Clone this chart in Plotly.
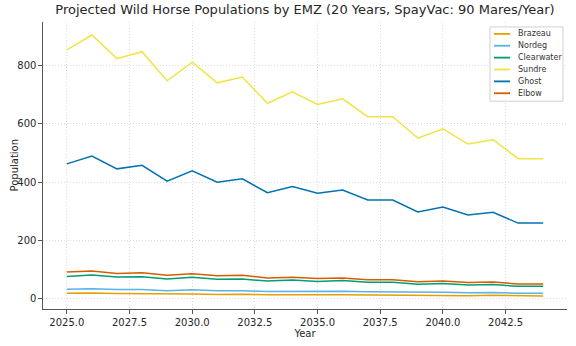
import plotly.graph_objects as go

years = list(range(2025, 2045))

brazeau = [19, 20, 18, 18, 16, 17, 15, 16, 14, 15, 14, 14, 13, 13, 12, 12, 11, 12, 10, 10]
nordeg = [33, 35, 32, 32, 28, 31, 28, 28, 25, 26, 25, 26, 24, 24, 22, 23, 21, 22, 19, 19]
clearwater = [77, 82, 75, 76, 68, 74, 67, 68, 61, 65, 60, 63, 57, 57, 50, 53, 48, 49, 43, 43]
sundre = [854, 905, 824, 848, 748, 812, 741, 761, 671, 710, 667, 686, 625, 625, 551, 583, 531, 546, 481, 481]
ghost = [463, 490, 446, 458, 404, 439, 400, 412, 364, 385, 362, 373, 339, 339, 298, 315, 288, 297, 260, 260]
elbow = [92, 96, 87, 90, 81, 86, 79, 81, 72, 74, 70, 72, 66, 66, 59, 61, 56, 58, 51, 51]

series = [
    ("Brazeau", brazeau, "#E69F00"),
    ("Nordeg", nordeg, "#56B4E9"),
    ("Clearwater", clearwater, "#009E73"),
    ("Sundre", sundre, "#F0E442"),
    ("Ghost", ghost, "#0072B2"),
    ("Elbow", elbow, "#D55E00"),
]

x_ticks = [2025.0, 2027.5, 2030.0, 2032.5, 2035.0, 2037.5, 2040.0, 2042.5]
y_ticks = [0, 200, 400, 600, 800]

W, H = 576, 346
ML, MR, MT, MB = 43, 9, 22, 34
PW, PH = W - ML - MR, H - MT - MB


def paper(px, py):
    """Convert page pixel coordinates to paper coordinates of the plot area."""
    return (px - ML) / PW, (H - MB - py) / PH


fig = go.Figure()
for name, vals, color in series:
    fig.add_trace(go.Scatter(x=years, y=vals, mode="lines", name=name,
                             line=dict(color=color, width=1.5), showlegend=False))

# Compact legend box drawn with shapes and annotations
shapes = []
annotations = []
bx0, by0 = paper(490, 27)
bx1, by1 = paper(563, 102)
shapes.append(dict(type="rect", xref="paper", yref="paper", x0=bx0, x1=bx1, y0=by1, y1=by0,
                   line=dict(color="#d0d0d0", width=1), fillcolor="rgba(255,255,255,0.85)",
                   layer="above"))
for i, (name, _, color) in enumerate(series):
    cy = 34 + i * 12
    lx0, ly = paper(494, cy)
    lx1, _ = paper(510, cy)
    tx, _ = paper(516, cy)
    shapes.append(dict(type="line", xref="paper", yref="paper", x0=lx0, x1=lx1, y0=ly, y1=ly,
                       line=dict(color=color, width=1.8), layer="above"))
    annotations.append(dict(text=name, xref="paper", yref="paper", x=tx, y=ly,
                            xanchor="left", yanchor="middle", showarrow=False,
                            font=dict(size=8, color="#333333")))

# Y-axis title
yt_x, yt_y = paper(14, 167)
annotations.append(dict(text="Population", xref="paper", yref="paper", x=yt_x, y=yt_y,
                        xanchor="center", yanchor="middle", textangle=-90, showarrow=False,
                        font=dict(size=10, color="#262626")))

font = "DejaVu Sans, sans-serif"
fig.update_layout(
    width=W, height=H,
    margin=dict(l=ML, r=MR, t=MT, b=MB),
    paper_bgcolor="white", plot_bgcolor="white",
    font=dict(family=font, size=10, color="#262626"),
    title=dict(text="Projected Wild Horse Populations by EMZ (20 Years, SpayVac: 90 Mares/Year)",
               x=0.5, xref="paper", y=0.985, yanchor="top",
               font=dict(size=13, color="#262626")),
    shapes=shapes,
    annotations=annotations,
    showlegend=False,
)
fig.update_xaxes(
    range=[2024.05, 2044.95], tickvals=x_ticks, tickformat=".1f",
    showgrid=True, gridcolor="#dcdcdc", griddash="1px,2px", gridwidth=1,
    showline=True, linecolor="#555555", linewidth=1.2, mirror=False,
    ticks="outside", ticklen=3.5, tickcolor="#555555", zeroline=False,
    title=dict(text="Year", standoff=2, font=dict(size=10)),
)
fig.update_yaxes(
    range=[-34.75, 949.75], tickvals=y_ticks,
    showgrid=True, gridcolor="#dcdcdc", griddash="1px,2px", gridwidth=1,
    showline=True, linecolor="#555555", linewidth=1.2, mirror=False,
    ticks="outside", ticklen=3.5, tickcolor="#555555", zeroline=False,
)

fig.write_html("out.html")
